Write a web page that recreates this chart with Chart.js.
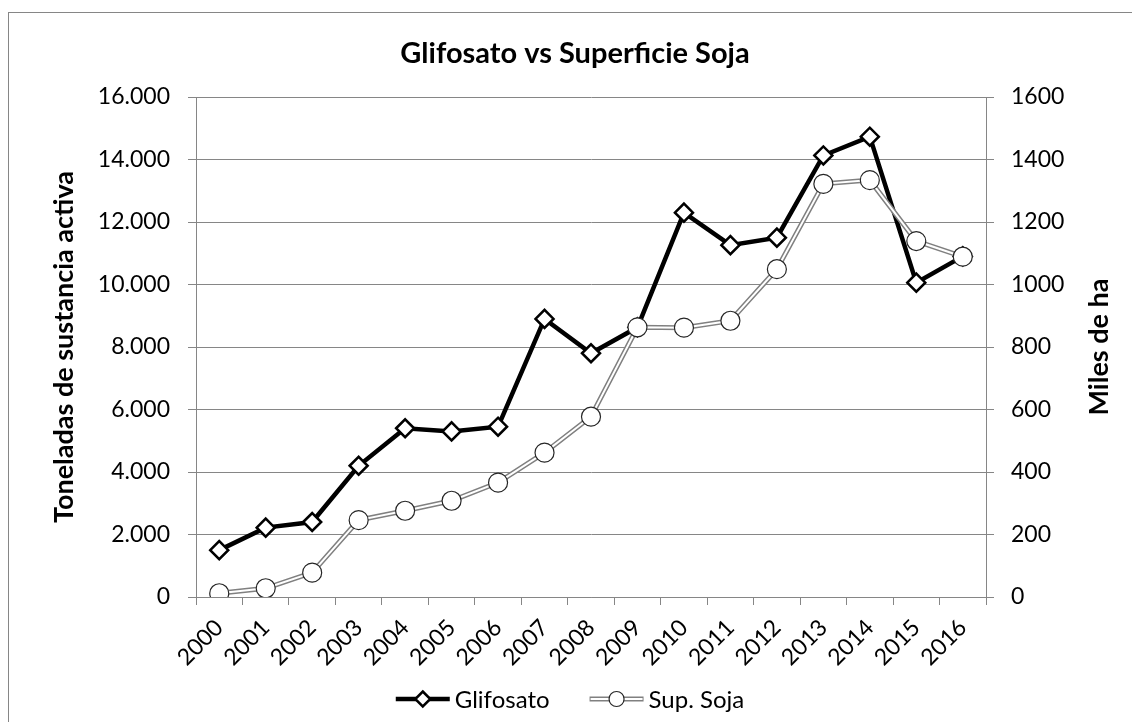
<!DOCTYPE html>
<html><head><meta charset="utf-8">
<script src="https://cdn.jsdelivr.net/npm/chart.js@4"></script>
<style>html,body{margin:0;padding:0;background:#fff}canvas{display:block}</style>
</head><body>
<canvas id="c" width="1132" height="722"></canvas>
<script>
const years = ['2000','2001','2002','2003','2004','2005','2006','2007','2008','2009','2010','2011','2012','2013','2014','2015','2016'];
const glifosato = [1500,2220,2400,4200,5400,5300,5450,8900,7800,8630,12300,11260,11500,14130,14730,10060,10900];
const supSoja = [12,28,78,246,276,308,366,462,577,863,862,884,1049,1322,1334,1139,1089];
const leftTicks = [0,2000,4000,6000,8000,10000,12000,14000,16000];
const rightTicks = [0,200,400,600,800,1000,1200,1400,1600];
const chartTitle = 'Glifosato vs Superficie Soja';
const leftTitle = 'Toneladas de sustancia activa';
const rightTitle = 'Miles de ha';
const seriesNames = ['Glifosato','Sup. Soja'];

const FONT = 'Lato, "Open Sans", sans-serif';
const GRID = '#868686';
const fmtDot = v => String(v).replace(/\B(?=(\d{3})+(?!\d))/g, '.');

const decor = {
  id: 'decor',
  beforeDraw(chart) {
    const ctx = chart.ctx;
    ctx.save();
    ctx.fillStyle = '#fff';
    ctx.fillRect(0, 0, chart.width, chart.height);
    ctx.strokeStyle = GRID;
    ctx.lineWidth = 1;
    ctx.strokeRect(8.5, 12.5, chart.width + 20, chart.height + 20);
    ctx.restore();
  },
  afterDraw(chart) {
    const ctx = chart.ctx;
    const ca = chart.chartArea;
    const cy = (ca.top + ca.bottom) / 2;
    ctx.save();
    ctx.fillStyle = '#000';
    // title
    ctx.font = 'bold 29px ' + FONT;
    ctx.textAlign = 'center';
    ctx.textBaseline = 'alphabetic';
    ctx.fillText(chartTitle, 575, 63);
    // left axis title
    ctx.save();
    ctx.translate(73, cy);
    ctx.rotate(-Math.PI / 2);
    ctx.font = 'bold 27px ' + FONT;
    ctx.fillText(leftTitle, 0, 0);
    ctx.restore();
    // right axis title
    ctx.save();
    ctx.translate(1108, cy);
    ctx.rotate(-Math.PI / 2);
    ctx.font = 'bold 27px ' + FONT;
    ctx.fillText(rightTitle, 0, 0);
    ctx.restore();
    // legend
    ctx.font = '24px ' + FONT;
    ctx.textAlign = 'left';
    ctx.textBaseline = 'middle';
    const ly = 699;
    const sample = 54, gapT = 5, gapI = 40;
    const w1 = ctx.measureText(seriesNames[0]).width;
    const w2 = ctx.measureText(seriesNames[1]).width;
    const total = sample + gapT + w1 + gapI + sample + gapT + w2;
    let x = 570 - total / 2;
    // item 1
    ctx.strokeStyle = '#000';
    ctx.lineWidth = 4.5;
    ctx.beginPath(); ctx.moveTo(x, ly); ctx.lineTo(x + sample, ly); ctx.stroke();
    const mx1 = x + sample / 2;
    ctx.beginPath();
    ctx.moveTo(mx1, ly - 7.5); ctx.lineTo(mx1 + 7.5, ly); ctx.lineTo(mx1, ly + 7.5); ctx.lineTo(mx1 - 7.5, ly); ctx.closePath();
    ctx.fillStyle = '#fff'; ctx.fill();
    ctx.lineWidth = 2.5; ctx.strokeStyle = '#000'; ctx.stroke();
    ctx.fillStyle = '#000';
    ctx.fillText(seriesNames[0], x + sample + gapT, ly + 1);
    x += sample + gapT + w1 + gapI;
    // item 2
    ctx.strokeStyle = '#808080'; ctx.lineWidth = 5;
    ctx.beginPath(); ctx.moveTo(x, ly); ctx.lineTo(x + sample, ly); ctx.stroke();
    ctx.strokeStyle = '#fff'; ctx.lineWidth = 2;
    ctx.beginPath(); ctx.moveTo(x + 1, ly); ctx.lineTo(x + sample - 1, ly); ctx.stroke();
    const mx2 = x + sample / 2;
    ctx.beginPath(); ctx.arc(mx2, ly, 7.5, 0, Math.PI * 2);
    ctx.fillStyle = '#fff'; ctx.fill();
    ctx.lineWidth = 1.2; ctx.strokeStyle = '#262626'; ctx.stroke();
    ctx.fillStyle = '#000';
    ctx.fillText(seriesNames[1], x + sample + gapT, ly + 1);
    ctx.restore();
  }
};

new Chart(document.getElementById('c'), {
  type: 'line',
  data: {
    labels: years,
    datasets: [
      {
        label: seriesNames[0], data: glifosato, yAxisID: 'y', order: 3,
        borderColor: '#000', borderWidth: 4.5, tension: 0,
        pointStyle: 'rectRot', pointRadius: 9, pointBackgroundColor: '#fff',
        pointBorderColor: '#000', pointBorderWidth: 2.5
      },
      {
        label: seriesNames[1] + ' outer', data: supSoja, yAxisID: 'y1', order: 2,
        borderColor: '#808080', borderWidth: 5, tension: 0, pointRadius: 0
      },
      {
        label: seriesNames[1], data: supSoja, yAxisID: 'y1', order: 1,
        borderColor: '#fff', borderWidth: 2, tension: 0,
        pointStyle: 'circle', pointRadius: 9.5, pointBackgroundColor: '#fff',
        pointBorderColor: '#262626', pointBorderWidth: 1.2
      }
    ]
  },
  options: {
    responsive: false,
    animation: false,
    events: [],
    layout: { padding: { top: 97, left: 0, right: 0, bottom: 0 } },
    plugins: { legend: { display: false }, title: { display: false }, tooltip: { enabled: false } },
    scales: {
      x: {
        type: 'category', offset: true,
        grid: { offset: true, drawOnChartArea: false, drawTicks: true, tickLength: 8, color: GRID },
        border: { display: true, color: GRID },
        ticks: { minRotation: 45, maxRotation: 45, autoSkip: false, color: '#000', font: { family: FONT, size: 23 }, padding: 9 },
        afterFit(s) { s.height = 125; }
      },
      y: {
        position: 'left', min: 0, max: 16000,
        afterBuildTicks(s) { s.ticks = leftTicks.map(v => ({ value: v })); },
        grid: { color: GRID, tickLength: 8, drawTicks: true },
        border: { display: true, color: GRID },
        ticks: { color: '#000', font: { family: FONT, size: 23 }, padding: 18, callback: v => fmtDot(v) },
        afterFit(s) { s.width = 196; }
      },
      y1: {
        position: 'right', min: 0, max: 1600,
        afterBuildTicks(s) { s.ticks = rightTicks.map(v => ({ value: v })); },
        grid: { drawOnChartArea: false, color: GRID, tickLength: 8, drawTicks: true },
        border: { display: true, color: GRID },
        ticks: { color: '#000', font: { family: FONT, size: 23 }, padding: 17, callback: v => String(v) },
        afterFit(s) { s.width = 146; }
      }
    }
  },
  plugins: [decor]
});
</script>
</body></html>
